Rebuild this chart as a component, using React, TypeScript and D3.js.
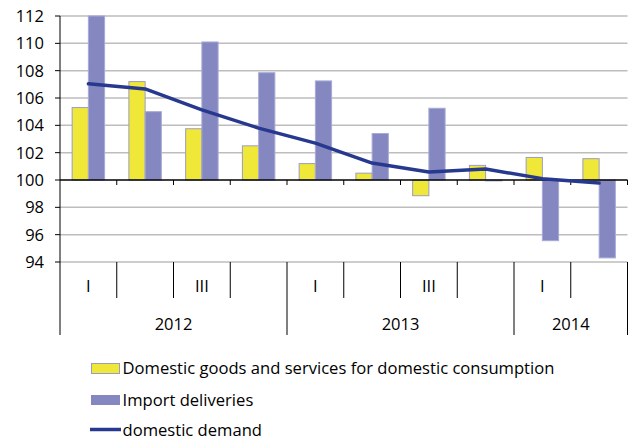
import React from "react";
import * as d3 from "d3";

const quarters = ["2012 I", "2012 II", "2012 III", "2012 IV", "2013 I", "2013 II", "2013 III", "2013 IV", "2014 I", "2014 II"];
const quarterLabels = ["I", "", "III", "", "I", "", "III", "", "I", ""];
const years = ["2012", "2013", "2014"];
const yearSpans = [4, 4, 2];
const domesticGoods = [105.3, 107.2, 103.75, 102.5, 101.2, 100.5, 98.85, 101.07, 101.65, 101.56];
const importDeliveries = [112.0, 105.0, 110.1, 107.85, 107.25, 103.4, 105.25, 99.93, 95.56, 94.3];
const domesticDemand = [107.04, 106.66, 105.13, 103.8, 102.7, 101.24, 100.58, 100.8, 100.1, 99.78];
const yTicks = [94, 96, 98, 100, 102, 104, 106, 108, 110, 112];

const W = 630, H = 441;
const left = 60, right = 627.5, top = 16, bottom = 262;
const FONT = "'Open Sans', sans-serif";
const FS = 16.5;

export default function App() {
  const x = d3.scaleBand<string>().domain(quarters).range([left, right]).paddingInner(0).paddingOuter(0);
  const y = d3.scaleLinear().domain([94, 112]).range([bottom, top]);
  const bw = x.bandwidth();
  const barW = bw * 0.286;
  const line = d3.line<number>().x((_, i) => (x(quarters[i]) as number) + bw / 2).y(d => y(d));
  const y100 = y(100);
  const qSepBottom = 298, ySepBottom = 335;
  let acc = 0;
  const yearBounds = yearSpans.map(s => { const a = acc; acc += s; return [a, acc]; });

  return (
    <svg width={W} height={H} style={{ position: "absolute", left: 0, top: 0 }} fontFamily={FONT}>
      <rect x={0} y={0} width={W} height={H} fill="#fff" />
      {yTicks.filter(t => t !== 100).map(t => (
        <line key={t} x1={left} x2={right} y1={y(t)} y2={y(t)} stroke="#bdbdbd" strokeWidth={1.5} />
      ))}
      {yTicks.map(t => (
        <g key={"t" + t}>
          <line x1={left - 5} x2={left} y1={y(t)} y2={y(t)} stroke="#000" strokeWidth={1} />
          <text x={44} y={y(t)} dy="0.36em" textAnchor="end" fontSize={FS} fill="#000">{t}</text>
        </g>
      ))}
      {quarters.map((q, i) => {
        const cx = (x(q) as number) + bw / 2;
        const a = domesticGoods[i], b = importDeliveries[i];
        return (
          <g key={q}>
            <rect x={cx - barW} y={Math.min(y(a), y100)} width={barW} height={Math.abs(y(a) - y100)} fill="#f0e838" stroke="#9c9cc0" strokeWidth={1} />
            <rect x={cx} y={Math.min(y(b), y100)} width={barW} height={Math.abs(y(b) - y100)} fill="#8487c0" stroke="#a7aad6" strokeWidth={1} />
          </g>
        );
      })}
      <line x1={left} x2={right} y1={y100} y2={y100} stroke="#000" strokeWidth={1.3} />
      {d3.range(1, quarters.length + 1).map(i => (
        <line key={"tk" + i} x1={left + i * bw} x2={left + i * bw} y1={y100} y2={y100 + 5} stroke="#000" strokeWidth={1} />
      ))}
      <line x1={left} x2={left} y1={top} y2={ySepBottom} stroke="#000" strokeWidth={1} />
      <line x1={right} x2={right} y1={bottom} y2={ySepBottom} stroke="#000" strokeWidth={1} />
      {d3.range(1, quarters.length).map(i => {
        const isYear = yearBounds.some(b => b[1] === i);
        return <line key={"qs" + i} x1={left + i * bw} x2={left + i * bw} y1={bottom} y2={isYear ? ySepBottom : qSepBottom} stroke="#000" strokeWidth={1} />;
      })}
      {quarterLabels.map((l, i) => (
        <text key={"ql" + i} x={(x(quarters[i]) as number) + bw / 2} y={286} dy="0.36em" textAnchor="middle" fontSize={FS}>{l}</text>
      ))}
      {years.map((yr, i) => (
        <text key={yr} x={left + ((yearBounds[i][0] + yearBounds[i][1]) / 2) * bw} y={324} dy="0.36em" textAnchor="middle" fontSize={FS}>{yr}</text>
      ))}
      <path d={line(domesticDemand) as string} fill="none" stroke="#27398f" strokeWidth={3.5} strokeLinejoin="round" strokeLinecap="round" />
      <rect x={91.5} y={363.5} width={28} height={10} fill="#f0e838" stroke="#9c9cc0" strokeWidth={1} />
      <text x={122.5} y={368.5} dy="0.36em" fontSize={16.6}>Domestic goods and services for domestic consumption</text>
      <rect x={91} y={395} width={29} height={10} fill="#8487c0" />
      <text x={122.5} y={400} dy="0.36em" fontSize={16.6}>Import deliveries</text>
      <line x1={90} x2={121} y1={429.5} y2={429.5} stroke="#27398f" strokeWidth={3.5} />
      <text x={122.5} y={430} dy="0.36em" fontSize={16.6}>domestic demand</text>
    </svg>
  );
}
